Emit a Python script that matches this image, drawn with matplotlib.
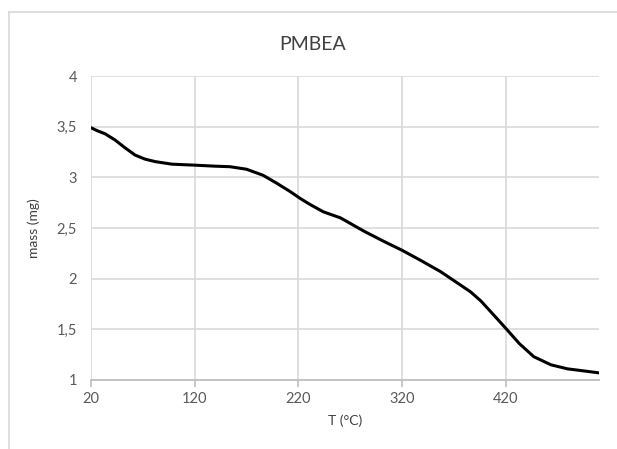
import matplotlib
matplotlib.use("Agg")
import matplotlib.pyplot as plt
from matplotlib.ticker import FuncFormatter
from matplotlib.lines import Line2D

# values
temp = [20, 26, 33.5, 43, 53, 62.5, 72, 82, 98, 120.5, 140, 154, 170, 186, 199.4,
        212, 222, 231.6, 244, 260.6, 283, 302, 320, 338, 357, 373, 386, 396, 408.5,
        420, 433, 447, 463.5, 479.5, 495, 510]
mass = [3.49, 3.46, 3.43, 3.37, 3.29, 3.22, 3.18, 3.155, 3.13, 3.12, 3.11, 3.105, 3.08, 3.02, 2.94,
        2.86, 2.79, 2.73, 2.66, 2.60, 2.47, 2.37, 2.28, 2.18, 2.07, 1.96, 1.87, 1.78, 1.64,
        1.51, 1.36, 1.23, 1.15, 1.11, 1.09, 1.07]
xticks = [20, 120, 220, 320, 420]
yticks = [1, 1.5, 2, 2.5, 3, 3.5, 4]

plt.rcParams['font.family'] = ['Lato', 'DejaVu Sans']
txt = '#595959'
grid = '#d9d9d9'

fig = plt.figure(figsize=(6.17, 4.49), dpi=100)
ax = fig.add_axes([0.1475, 0.1537, 0.971 - 0.1475, 0.8307 - 0.1537])

ax.plot(temp, mass, color='black', linewidth=2.2, solid_capstyle='round',
        solid_joinstyle='round')

ax.set_xlim(20, 510)
ax.set_ylim(1, 4)
ax.set_xticks(xticks)
ax.set_yticks(yticks)
ax.yaxis.set_major_formatter(FuncFormatter(lambda v, p: ('%g' % v).replace('.', ',')))
ax.grid(True, color=grid, linewidth=1.2)
ax.set_axisbelow(True)
for s in ['top', 'right', 'left']:
    ax.spines[s].set_visible(False)
ax.spines['bottom'].set_color('#bfbfbf')
ax.spines['bottom'].set_linewidth(1.3)
ax.tick_params(axis='x', colors=txt, length=5, color='#bfbfbf', width=1.2, labelsize=10.5, pad=4)
ax.tick_params(axis='y', colors=txt, length=0, labelsize=10.5, pad=10)

ax.set_xlabel('T (°C)', color='#404040', fontsize=10, labelpad=6)
ax.set_ylabel('mass (mg)', color='#404040', fontsize=10, labelpad=12)

fig.text(0.506, 0.902, 'PMBEA', ha='center', va='center', fontsize=14, color='#404040')

# chart area border (only left and top visible in the crop)
fig.add_artist(Line2D([9 / 617, 9 / 617], [0, 1 - 12 / 449], transform=fig.transFigure,
                      color='#d9d9d9', linewidth=1.2))
fig.add_artist(Line2D([9 / 617, 1], [1 - 12 / 449, 1 - 12 / 449], transform=fig.transFigure,
                      color='#d9d9d9', linewidth=1.2))

fig.savefig('out.png', dpi=100)
